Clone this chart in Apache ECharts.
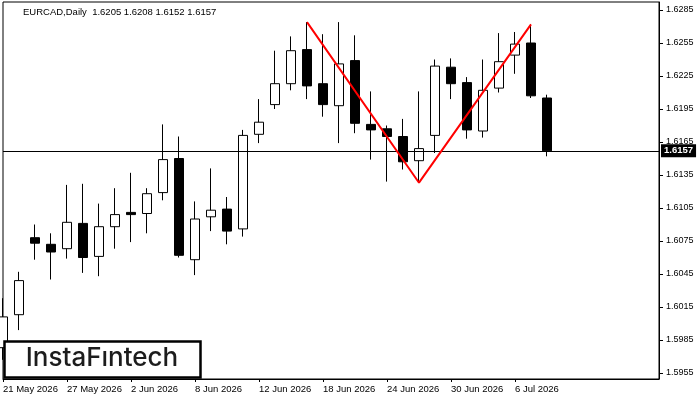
<!DOCTYPE html>
<html>
<head>
<meta charset="utf-8">
<title>EURCAD Daily</title>
<script src="https://cdn.jsdelivr.net/npm/echarts@6.0.0/dist/echarts.min.js"></script>
<style>
  html, body { margin: 0; padding: 0; background: #fff; }
  #chart { width: 700px; height: 400px; }
</style>
</head>
<body>
<div id="chart"></div>
<script>
// daily bars, EURCAD
const dates = [
  '21 May 2026', '22 May 2026', '25 May 2026', '26 May 2026', '27 May 2026',
  '28 May 2026', '29 May 2026', '1 Jun 2026', '2 Jun 2026', '3 Jun 2026',
  '4 Jun 2026', '5 Jun 2026', '8 Jun 2026', '9 Jun 2026', '10 Jun 2026',
  '11 Jun 2026', '12 Jun 2026', '15 Jun 2026', '16 Jun 2026', '17 Jun 2026',
  '18 Jun 2026', '19 Jun 2026', '22 Jun 2026', '23 Jun 2026', '24 Jun 2026',
  '25 Jun 2026', '26 Jun 2026', '29 Jun 2026', '30 Jun 2026', '1 Jul 2026',
  '2 Jul 2026', '3 Jul 2026', '6 Jul 2026', '7 Jul 2026', '8 Jul 2026'
];
const openPrices = [
  1.5978, 1.6008, 1.6078, 1.6072, 1.6068, 1.6091, 1.6061, 1.6088, 1.6101, 1.6100,
  1.6119, 1.6150, 1.6058, 1.6097, 1.6104, 1.6086, 1.6172, 1.6199, 1.6218, 1.6249,
  1.6218, 1.6198, 1.6239, 1.6181, 1.6177, 1.6170, 1.6148, 1.6171, 1.6233, 1.6219,
  1.6175, 1.6214, 1.6244, 1.6255, 1.6205
];
const highPrices = [
  1.6023, 1.6047, 1.6090, 1.6082, 1.6126, 1.6127, 1.6109, 1.6123, 1.6137, 1.6123,
  1.6181, 1.6170, 1.6111, 1.6141, 1.6115, 1.6176, 1.6204, 1.6248, 1.6261, 1.6274,
  1.6263, 1.6274, 1.6262, 1.6211, 1.6180, 1.6186, 1.6211, 1.6240, 1.6241, 1.6224,
  1.6240, 1.6264, 1.6265, 1.6272, 1.6208
];
const lowPrices = [
  1.5967, 1.5994, 1.6058, 1.6040, 1.6059, 1.6046, 1.6043, 1.6068, 1.6074, 1.6082,
  1.6112, 1.6060, 1.6044, 1.6084, 1.6072, 1.6079, 1.6164, 1.6195, 1.6212, 1.6204,
  1.6188, 1.6164, 1.6173, 1.6149, 1.6129, 1.6140, 1.6128, 1.6155, 1.6204, 1.6168,
  1.6169, 1.6210, 1.6227, 1.6205, 1.6152
];
const closePrices = [
  1.6006, 1.6039, 1.6073, 1.6065, 1.6092, 1.6060, 1.6088, 1.6099, 1.6099, 1.6118,
  1.6149, 1.6062, 1.6095, 1.6103, 1.6084, 1.6171, 1.6183, 1.6218, 1.6248, 1.6216,
  1.6199, 1.6236, 1.6182, 1.6176, 1.6170, 1.6147, 1.6159, 1.6234, 1.6218, 1.6176,
  1.6212, 1.6238, 1.6254, 1.6207, 1.6157
];
// double top pattern: peak, trough, peak (bar index, price)
const patternIndex = [19, 26, 33];
const patternPrice = [1.6274, 1.6128, 1.6272];
const priceTicks = [1.5955, 1.5985, 1.6015, 1.6045, 1.6075, 1.6105, 1.6135, 1.6165, 1.6195, 1.6225, 1.6255, 1.6285];
const lastPrice = 1.6157;

const emptyBars = 7;
const xData = dates.concat(Array.from({ length: emptyBars }, (_, i) => 'empty' + i));
const showDate = (index) => index % 4 === 0 && index < dates.length;

const candles = dates.map((d, i) => [openPrices[i], closePrices[i], lowPrices[i], highPrices[i]]);
const patternLine = patternIndex.map((idx, i) => [idx, patternPrice[i]]);

const axisFont = 'Liberation Sans, Arial, sans-serif';

const myChart = echarts.init(document.getElementById('chart'), null, { renderer: 'canvas' });
const chartOption = {
  animation: false,
  backgroundColor: '#fff',
  title: {
    text: 'EURCAD,Daily  ' + [openPrices[34], highPrices[34], lowPrices[34], closePrices[34]].map(v => v.toFixed(4)).join(' '),
    left: 18,
    top: 2,
    textStyle: {
      color: '#000',
      fontFamily: axisFont,
      fontSize: 9.5,
      fontWeight: 'normal'
    }
  },
  grid: {
    left: 3,
    right: 41,
    top: 2,
    bottom: 21,
    show: true,
    borderColor: '#000',
    borderWidth: 1,
    outerBoundsMode: 'none'
  },
  xAxis: {
    type: 'category',
    data: xData,
    boundaryGap: false,
    axisLine: { show: true, lineStyle: { color: '#000', width: 1 } },
    axisTick: {
      show: true,
      length: 3,
      interval: showDate,
      lineStyle: { color: '#000' }
    },
    axisLabel: {
      interval: showDate,
      align: 'left',
      margin: 5,
      color: '#000',
      fontFamily: axisFont,
      fontSize: 9.5
    },
    splitLine: { show: false }
  },
  yAxis: {
    type: 'value',
    position: 'right',
    min: 1.6285 - 369 / 11000,
    max: 1.6285 + 8 / 11000,
    scale: true,
    axisLine: { show: true, lineStyle: { color: '#000', width: 1 } },
    axisTick: {
      show: true,
      length: 4,
      customValues: priceTicks,
      lineStyle: { color: '#000' }
    },
    axisLabel: {
      customValues: priceTicks,
      formatter: v => v.toFixed(4),
      margin: 7,
      color: '#000',
      fontFamily: axisFont,
      fontSize: 9
    },
    splitLine: { show: false }
  },
  series: [
    {
      // current price line
      name: 'last',
      type: 'line',
      data: [],
      z: 1,
      markLine: {
        silent: true,
        precision: 4,
        symbol: ['none', 'none'],
        lineStyle: { color: '#000', width: 1, type: 'solid' },
        label: {
          show: true,
          position: 'end',
          distance: 2,
          formatter: lastPrice.toFixed(4),
          color: '#fff',
          backgroundColor: '#000',
          padding: [2, 3, 1, 3],
          fontFamily: axisFont,
          fontSize: 9.5,
          fontWeight: 'bold'
        },
        data: [{ yAxis: lastPrice }]
      }
    },
    {
      name: 'EURCAD',
      type: 'candlestick',
      data: candles,
      barWidth: 9,
      clip: true,
      z: 2,
      itemStyle: {
        color: '#fff',
        color0: '#000',
        borderColor: '#000',
        borderColor0: '#000',
        borderWidth: 1
      }
    },
    {
      name: 'pattern',
      type: 'line',
      data: patternLine,
      symbol: 'none',
      z: 5,
      lineStyle: { color: '#ff0000', width: 2 }
    }
  ],
  graphic: [
    {
      type: 'rect',
      z: 100,
      shape: { x: 4.5, y: 341.5, width: 196, height: 36 },
      style: { fill: '#fff', stroke: '#000', lineWidth: 2.5 }
    },
    {
      type: 'text',
      z: 101,
      x: 102,
      y: 358,
      style: {
        text: 'InstaFıntech',
        fill: '#1c1c1c',
        font: '500 26px Inter, "Open Sans", sans-serif',
        textAlign: 'center',
        textVerticalAlign: 'middle'
      }
    }
  ]
};
myChart.setOption(chartOption);
</script>
</body>
</html>
